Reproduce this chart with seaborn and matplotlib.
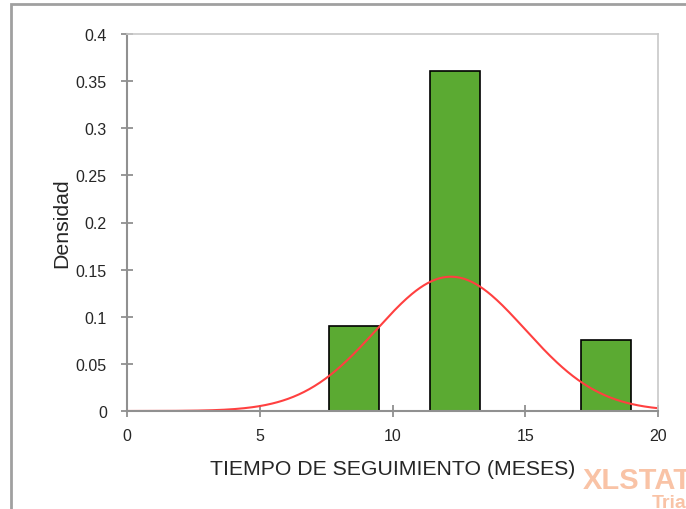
import numpy as np
import pandas as pd
import matplotlib
matplotlib.use("Agg")
import matplotlib.pyplot as plt
import seaborn as sns
from matplotlib.patches import Rectangle

# histogram bins (months) and counts per bin
bin_edges = [1.9, 3.8, 5.7, 7.6, 9.5, 11.4, 13.3, 15.2, 17.1, 19.0]
bin_counts = [0, 0, 0, 6, 0, 24, 0, 0, 5]

# fitted normal curve
norm_mean = 12.2
norm_sd = 2.8

x_ticks = [0, 5, 10, 15, 20]
y_ticks = [0, 0.05, 0.1, 0.15, 0.2, 0.25, 0.3, 0.35, 0.4]
y_tick_labels = ["0", "0.05", "0.1", "0.15", "0.2", "0.25", "0.3", "0.35", "0.4"]

centers = [(a + b) / 2 for a, b in zip(bin_edges[:-1], bin_edges[1:])]
df = pd.DataFrame({"x": centers, "n": bin_counts})

sns.set_style("white")
plt.rcParams['font.family'] = ['Liberation Sans', 'DejaVu Sans']

fig = plt.figure(figsize=(6.86, 5.10), dpi=100)
ax = fig.add_axes([127/686, 98/510, 531/686, 377/510])

sns.histplot(data=df, x="x", weights="n", bins=bin_edges, stat="density",
             color="#5BAA32", alpha=1, edgecolor="black", linewidth=1.2, ax=ax)

xs = np.linspace(0, 20, 400)
ys = np.exp(-0.5 * ((xs - norm_mean) / norm_sd) ** 2) / (norm_sd * np.sqrt(2 * np.pi))
sns.lineplot(x=xs, y=ys, color="#FF4040", linewidth=1.5, ax=ax)

ax.set_xlim(0, 20)
ax.set_ylim(0, 0.4)
ax.set_xticks(x_ticks)
ax.set_yticks(y_ticks)
ax.set_yticklabels(y_tick_labels)
for lab in ax.get_xticklabels() + ax.get_yticklabels():
    lab.set_fontsize(11.5)
ax.tick_params(axis="both", bottom=True, left=True, direction="inout", length=9,
               width=1.3, color="#909090")
ax.tick_params(axis="x", pad=8)
ax.tick_params(axis="y", pad=10)

ax.set_xlabel("TIEMPO DE SEGUIMIENTO (MESES)", fontsize=15.3, labelpad=11)
ax.set_ylabel("Densidad", fontsize=15.3, labelpad=3)

for s in ["left", "bottom"]:
    ax.spines[s].set_color("#909090")
    ax.spines[s].set_linewidth(1.5)
for s in ["top", "right"]:
    ax.spines[s].set_color("#C8C8C8")
    ax.spines[s].set_linewidth(1.2)
ax.set_zorder(2)

# outer chart border
fig.patches.append(Rectangle((11/686, -0.1), 1.2, (505/510) + 0.1, transform=fig.transFigure,
                             fill=False, edgecolor="#A0A0A0", linewidth=2))

# watermark (cut off at the right edge, as in the source image)
fig.text(583/686, 29/510, "XLSTAT", color="#F9C3A6", fontsize=21, fontweight="bold", va="center")
fig.text(652/686, 6/510, "Tria", color="#F9C3A6", fontsize=14, fontweight="bold", va="center")

fig.savefig("out.png", dpi=100)
